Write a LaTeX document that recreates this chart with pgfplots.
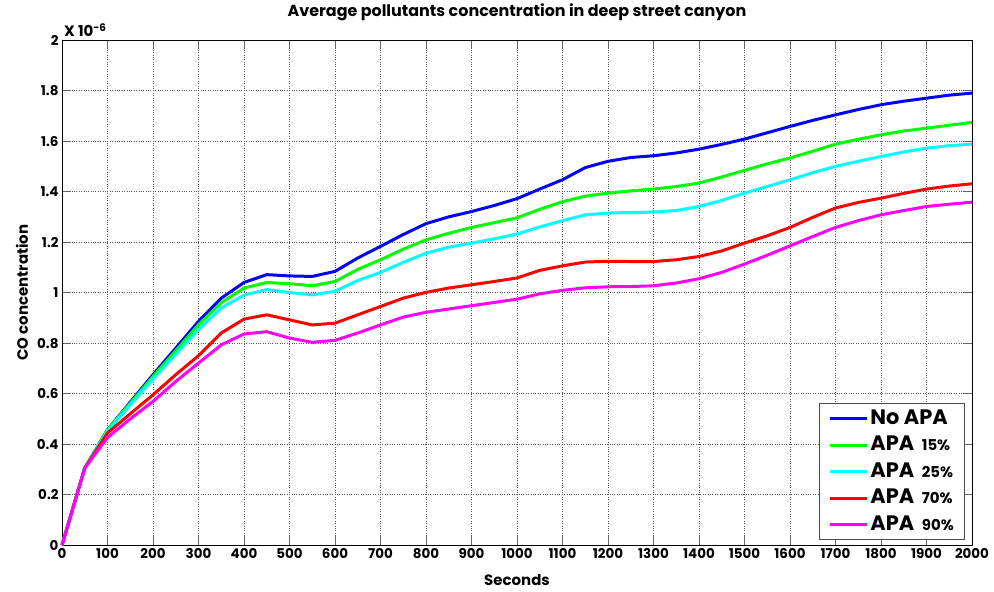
\documentclass[border=0pt]{standalone}
\usepackage{pgfplots}
\pgfplotsset{compat=1.18}
\usepackage{fontspec}
\setmainfont{Poppins}
\definecolor{mblue}{rgb}{0,0,1}
\definecolor{mgreen}{rgb}{0,1,0}
\definecolor{mcyan}{rgb}{0,1,1}
\definecolor{mred}{rgb}{1,0,0}
\definecolor{mmag}{rgb}{1,0,1}
\begin{document}
\begin{tikzpicture}
\begin{axis}[
  scale only axis,
  width=910bp, height=505bp,
  xmin=0, xmax=2000, ymin=0, ymax=2,
  xtick={0,100,...,2000},
  ytick={0,0.2,...,2.01},
  scaled ticks=false,
  /pgf/number format/1000 sep={},
  /pgf/number format/assume math mode=true,
  tick label style={font=\bfseries\fontsize{13.5}{13.5}\selectfont},
  grid=major,
  major grid style={black!65, dotted, line width=0.7pt},
  major tick length=9bp,
  tick style={black!60, line width=1pt},
  axis line style={black, line width=1pt},
  title={\bfseries\fontsize{16}{16}\selectfont Average pollutants concentration in deep street canyon},
  title style={at={(axis description cs:0.5,1.044)}, anchor=center},
  xlabel={\bfseries\fontsize{15}{15}\selectfont Seconds},
  xlabel style={at={(axis description cs:0.5,-0.069)}, anchor=center},
  ylabel={\bfseries\fontsize{15}{15}\selectfont CO concentration},
  ylabel style={at={(axis description cs:-0.044,0.5)}, anchor=center},
  clip=false,
  legend cell align=left,
  legend style={at={(rel axis cs:0.992,0.01)}, anchor=south east, draw=black!70, line width=0.8pt,
    inner xsep=9bp, inner ysep=4bp, row sep=4.5bp, font=\bfseries,
    nodes={inner sep=1.5bp, text height=15bp, text depth=4bp}},
  legend image code/.code={\draw[line width=3.2pt,#1] (0bp,0bp) -- (37bp,0bp);},
]
\addplot[mblue, line width=3pt] coordinates {
(0,0) (50,0.305) (100,0.457) (150,0.566) (200,0.675) (250,0.78) (300,0.886) (350,0.978) (400,1.04) (450,1.071)
(500,1.066) (550,1.064) (600,1.084) (650,1.137) (700,1.183) (750,1.23) (800,1.273) (850,1.30) (900,1.321) (950,1.345)
(1000,1.372) (1050,1.41) (1100,1.447) (1150,1.495) (1200,1.52) (1250,1.535) (1300,1.542) (1350,1.553) (1400,1.568) (1450,1.587)
(1500,1.608) (1550,1.633) (1600,1.658) (1650,1.682) (1700,1.704) (1750,1.725) (1800,1.744) (1850,1.758) (1900,1.77) (1950,1.782) (2000,1.79)};
\addlegendentry{\fontsize{21}{21}\selectfont No APA}
\addplot[mgreen, line width=3pt] coordinates {
(0,0) (50,0.305) (100,0.457) (150,0.562) (200,0.668) (250,0.77) (300,0.873) (350,0.96) (400,1.018) (450,1.04)
(500,1.035) (550,1.027) (600,1.044) (650,1.092) (700,1.13) (750,1.172) (800,1.209) (850,1.235) (900,1.258) (950,1.277)
(1000,1.296) (1050,1.33) (1100,1.36) (1150,1.382) (1200,1.394) (1250,1.403) (1300,1.41) (1350,1.42) (1400,1.434) (1450,1.458)
(1500,1.484) (1550,1.51) (1600,1.533) (1650,1.56) (1700,1.588) (1750,1.607) (1800,1.625) (1850,1.64) (1900,1.651) (1950,1.663) (2000,1.674)};
\addlegendentry{\fontsize{21}{21}\selectfont APA \fontsize{15}{15}\selectfont\ 15\%}
\addplot[mcyan, line width=3pt] coordinates {
(0,0) (50,0.305) (100,0.452) (150,0.555) (200,0.658) (250,0.755) (300,0.853) (350,0.939) (400,0.99) (450,1.012)
(500,1.0) (550,0.991) (600,1.005) (650,1.048) (700,1.08) (750,1.12) (800,1.156) (850,1.18) (900,1.196) (950,1.213)
(1000,1.232) (1050,1.26) (1100,1.285) (1150,1.308) (1200,1.315) (1250,1.317) (1300,1.319) (1350,1.325) (1400,1.341) (1450,1.365)
(1500,1.394) (1550,1.42) (1600,1.447) (1650,1.475) (1700,1.5) (1750,1.52) (1800,1.539) (1850,1.557) (1900,1.572) (1950,1.582) (2000,1.588)};
\addlegendentry{\fontsize{21}{21}\selectfont APA \fontsize{15}{15}\selectfont\ 25\%}
\addplot[mred, line width=3pt] coordinates {
(0,0) (50,0.305) (100,0.444) (150,0.52) (200,0.595) (250,0.675) (300,0.75) (350,0.84) (400,0.895) (450,0.912)
(500,0.892) (550,0.872) (600,0.879) (650,0.912) (700,0.945) (750,0.978) (800,1.001) (850,1.018) (900,1.031) (950,1.044)
(1000,1.058) (1050,1.088) (1100,1.106) (1150,1.121) (1200,1.124) (1250,1.123) (1300,1.123) (1350,1.13) (1400,1.143) (1450,1.165)
(1500,1.196) (1550,1.225) (1600,1.258) (1650,1.298) (1700,1.335) (1750,1.357) (1800,1.374) (1850,1.393) (1900,1.41) (1950,1.422) (2000,1.431)};
\addlegendentry{\fontsize{21}{21}\selectfont APA \fontsize{15}{15}\selectfont\ 70\%}
\addplot[mmag, line width=3pt] coordinates {
(0,0) (50,0.305) (100,0.426) (150,0.50) (200,0.569) (250,0.648) (300,0.721) (350,0.793) (400,0.836) (450,0.845)
(500,0.82) (550,0.803) (600,0.811) (650,0.84) (700,0.872) (750,0.903) (800,0.922) (850,0.935) (900,0.948) (950,0.961)
(1000,0.974) (1050,0.995) (1100,1.009) (1150,1.019) (1200,1.023) (1250,1.024) (1300,1.027) (1350,1.038) (1400,1.055) (1450,1.08)
(1500,1.113) (1550,1.148) (1600,1.185) (1650,1.222) (1700,1.258) (1750,1.285) (1800,1.308) (1850,1.325) (1900,1.341) (1950,1.35) (2000,1.358)};
\addlegendentry{\fontsize{21}{21}\selectfont APA \fontsize{15}{15}\selectfont\ 90\%}
\node[anchor=south west, inner sep=0pt, font=\bfseries\fontsize{15}{15}\selectfont] at ([xshift=2bp,yshift=3bp]rel axis cs:0,1) {X 10\textsuperscript{-6}};
\coordinate (sw) at (rel axis cs:0,0);
\coordinate (ne) at (rel axis cs:1,1);
\end{axis}
\path ([xshift=-62bp,yshift=-46bp]sw) rectangle ([xshift=22bp,yshift=34bp]ne);
\end{tikzpicture}
\end{document}
